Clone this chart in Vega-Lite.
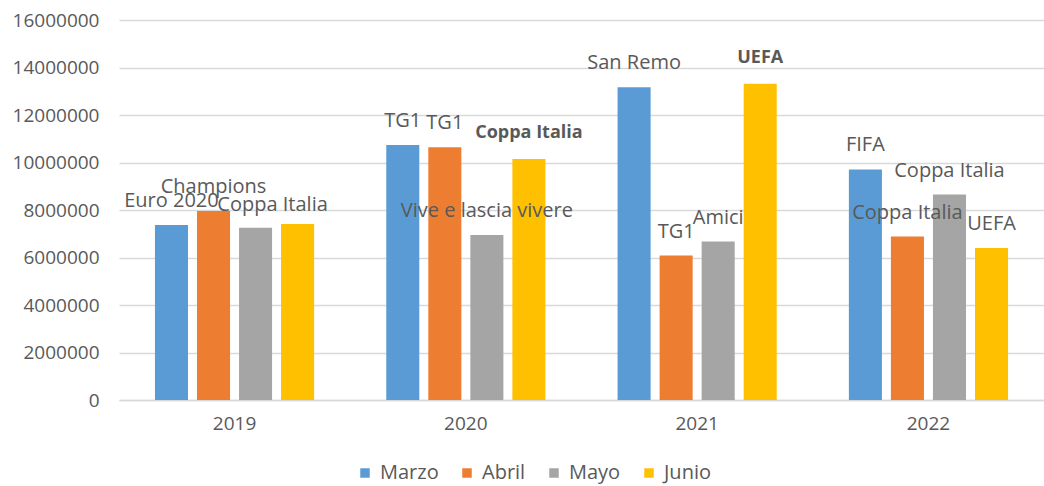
{
  "$schema": "https://vega.github.io/schema/vega-lite/v6.json",
  "width": 925,
  "height": 380,
  "autosize": "none",
  "padding": {"left": 119, "top": 20, "right": 0, "bottom": 86},
  "background": "white",
  "config": {
    "view": {"stroke": null},
    "font": "Open Sans",
    "text": {"font": "Open Sans", "fontSize": 20, "color": "#595959"}
  },
  "data": {
    "values": [
      {"year": "2019", "month": "Marzo", "value": 7370000, "label": "Euro 2020"},
      {"year": "2019", "month": "Abril", "value": 7960000, "label": "Champions"},
      {"year": "2019", "month": "Mayo", "value": 7250000, "label": "Coppa Italia"},
      {"year": "2019", "month": "Junio", "value": 7410000, "label": ""},
      {"year": "2020", "month": "Marzo", "value": 10740000, "label": "TG1"},
      {"year": "2020", "month": "Abril", "value": 10640000, "label": "TG1"},
      {"year": "2020", "month": "Mayo", "value": 6950000, "label": "Vive e lascia vivere"},
      {"year": "2020", "month": "Junio", "value": 10150000, "label": "Coppa Italia"},
      {"year": "2021", "month": "Marzo", "value": 13170000, "label": "San Remo"},
      {"year": "2021", "month": "Abril", "value": 6080000, "label": "TG1"},
      {"year": "2021", "month": "Mayo", "value": 6670000, "label": "Amici"},
      {"year": "2021", "month": "Junio", "value": 13320000, "label": "UEFA"},
      {"year": "2022", "month": "Marzo", "value": 9710000, "label": "FIFA"},
      {"year": "2022", "month": "Abril", "value": 6880000, "label": "Coppa Italia"},
      {"year": "2022", "month": "Mayo", "value": 8650000, "label": "Coppa Italia"},
      {"year": "2022", "month": "Junio", "value": 6400000, "label": "UEFA"}
    ]
  },
  "encoding": {
    "x": {
      "field": "year", "type": "nominal", "title": null,
      "scale": {"paddingInner": 0.273, "paddingOuter": 0.136},
      "axis": {"labelAngle": 0, "labelFontSize": 19, "labelColor": "#595959", "labelFont": "Open Sans", "ticks": false, "domain": true, "domainColor": "#D9D9D9", "domainWidth": 1.5, "labelPadding": 14}
    },
    "xOffset": {
      "field": "month", "type": "nominal", "sort": ["Marzo", "Abril", "Mayo", "Junio"],
      "scale": {"paddingInner": 0.214, "paddingOuter": 0.107}
    },
    "y": {
      "field": "value", "type": "quantitative", "title": null,
      "scale": {"domain": [0, 16000000], "nice": false},
      "axis": {"values": [0, 2000000, 4000000, 6000000, 8000000, 10000000, 12000000, 14000000, 16000000], "format": "d", "labelFontSize": 19, "labelColor": "#595959", "labelFont": "Open Sans", "ticks": false, "domain": false, "gridColor": "#D9D9D9", "gridWidth": 1.3, "labelPadding": 20}
    }
  },
  "layer": [
    {
      "mark": {"type": "bar"},
      "encoding": {
        "color": {
          "field": "month", "type": "nominal", "sort": ["Marzo", "Abril", "Mayo", "Junio"],
          "scale": {"domain": ["Marzo", "Abril", "Mayo", "Junio"], "range": ["#5B9BD5", "#ED7D31", "#A5A5A5", "#FFC000"]},
          "legend": {
            "title": null, "orient": "none", "direction": "horizontal",
            "legendX": 236, "legendY": 443,
            "symbolType": "square", "symbolSize": 90, "symbolStrokeWidth": 0,
            "labelFontSize": 20, "labelColor": "#595959", "labelFont": "Open Sans",
            "columnPadding": 18, "labelOffset": 5
          }
        }
      }
    },
    {
      "transform": [{"filter": "!(datum.month == 'Junio' && (datum.year == '2020' || datum.year == '2021')) && !(datum.year == '2019' && datum.month == 'Mayo')"}],
      "mark": {"type": "text", "baseline": "middle", "dy": -24},
      "encoding": {"text": {"field": "label"}}
    },
    {
      "transform": [{"filter": "datum.year == '2019' && datum.month == 'Mayo'"}],
      "mark": {"type": "text", "baseline": "middle", "dy": -23, "dx": 17},
      "encoding": {"text": {"field": "label"}}
    },
    {
      "transform": [{"filter": "datum.month == 'Junio' && (datum.year == '2020' || datum.year == '2021')"}],
      "mark": {"type": "text", "baseline": "middle", "dy": -26, "fontWeight": "bold", "font": "Open Sans", "fontSize": 18},
      "encoding": {"text": {"field": "label"}}
    }
  ]
}
